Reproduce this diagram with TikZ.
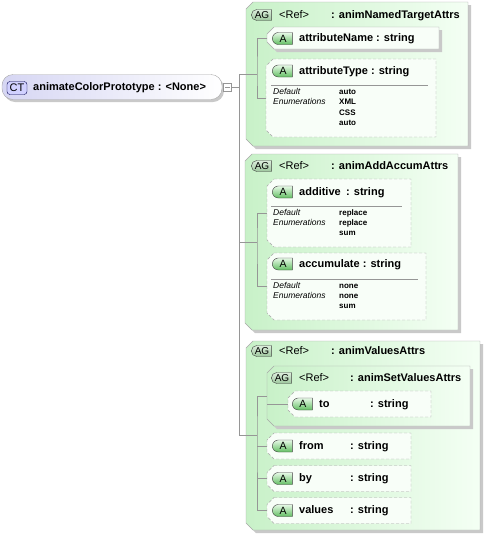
\documentclass[tikz,border=0pt]{standalone}
\usepackage{fontspec}
\setmainfont{Liberation Sans}
\usepackage{tikz}
\usetikzlibrary{shapes.misc,positioning}

\definecolor{agleft}{HTML}{C8F1C8}
\definecolor{agright}{HTML}{F4FFF4}
\definecolor{boxline}{HTML}{A8A8A8}
\definecolor{shadowgrey}{HTML}{C9C9C9}
\definecolor{attrfill}{HTML}{F8FEF8}
\definecolor{ctleft}{HTML}{D6D6F3}
\definecolor{badgetop}{HTML}{E6F9E6}
\definecolor{badgebot}{HTML}{62BE62}
\definecolor{agbtop}{HTML}{DDEEDD}
\definecolor{agbbot}{HTML}{9CC69C}
\definecolor{conline}{HTML}{969696}

% outline with cut corners on the left, shifted by #2
\newcommand{\chamfer}[2]{([shift={(#2)},xshift=7pt]#1.north west) -- ([shift={(#2)}]#1.north east)
  -- ([shift={(#2)}]#1.south east) -- ([shift={(#2)},xshift=7pt]#1.south west)
  -- ([shift={(#2)},yshift=7pt]#1.south west) -- ([shift={(#2)},yshift=-7pt]#1.north west) -- cycle}
\newcommand{\groupbox}[1]{\fill[shadowgrey] \chamfer{#1}{3pt,-3pt};
  \shade[left color=agleft, right color=agright] \chamfer{#1}{0pt,0pt};
  \draw[draw=boxline] \chamfer{#1}{0pt,0pt};}
\newcommand{\attrbox}[1]{\fill[shadowgrey] \chamfer{#1}{3pt,-3pt};
  \fill[attrfill] \chamfer{#1}{0pt,0pt};
  \draw[draw=boxline] \chamfer{#1}{0pt,0pt};}
\newcommand{\optbox}[1]{\fill[attrfill] \chamfer{#1}{0pt,0pt};
  \draw[draw=boxline, dash pattern=on 3pt off 2pt] \chamfer{#1}{0pt,0pt};}

\tikzset{
  frame/.style={rectangle, draw=none, inner sep=0pt, outer sep=0pt},
  abadge/.style={rounded rectangle, rounded rectangle right arc=none, draw=black!75,
    top color=badgetop, bottom color=badgebot, minimum width=20pt, minimum height=12pt,
    inner sep=0pt, font=\fontsize{10.5}{11}\selectfont},
  agbadge/.style={abadge, top color=agbtop, bottom color=agbbot, minimum height=11pt,
    font=\fontsize{10}{11}\selectfont},
  ctbadge/.style={rectangle, rounded corners=3pt, draw=black!70!blue, fill=blue!18!white,
    minimum width=20pt, minimum height=13pt, inner sep=0pt, font=\fontsize{11}{12}\selectfont},
  title/.style={anchor=west, inner sep=0pt, text height=8pt, text depth=2pt,
    font=\fontsize{11}{13}\selectfont\bfseries},
  reftext/.style={title, font=\fontsize{11}{13}\selectfont},
  det/.style={anchor=west, inner sep=0pt, text height=6.5pt, text depth=1.5pt,
    font=\fontsize{8.5}{10}\selectfont\itshape},
  val/.style={det, font=\fontsize{8}{10}\selectfont\bfseries},
  port/.style={rectangle, draw=conline, fill=white, minimum size=8pt, inner sep=0pt},
  conn/.style={draw=conline, line width=0.6pt},
  sep/.style={draw=conline, line width=0.6pt}
}

\begin{document}
\begin{tikzpicture}[x=1pt,y=-1pt]
    \useasboundingbox (0,0) rectangle (487,539);
    %complex type
    \fill[shadowgrey, rounded corners=11pt] (4,77) rectangle (224,102);
    \node[rectangle, rounded corners=11pt, draw=boxline, left color=ctleft, right color=white,
      minimum width=220pt, minimum height=25pt, inner sep=0pt] (proto) at (112,87) {};
    \node[ctbadge] (ct) at (17,88) {CT};
    \node[title] (protoname) at (33,87) {animateColorPrototype : <None>};
    \node[port] (ctport) at (227.5,87.5) {};
    \draw[conn] ([xshift=2pt]ctport.west) -- ([xshift=-2pt]ctport.east);

    %groups
    \node[frame, minimum width=222pt, minimum height=144pt] (namedTarget) at (357,74) {};
    \groupbox{namedTarget}
    \node[frame, minimum width=213pt, minimum height=176pt] (addAccum) at (351.5,242) {};
    \groupbox{addAccum}
    \node[frame, minimum width=234pt, minimum height=189pt] (valuesAttrs) at (363,435.5) {};
    \groupbox{valuesAttrs}
    \node[frame, minimum width=203pt, minimum height=60pt] (setValues) at (368.5,396) {};
    \groupbox{setValues}

    %group headers
    \node[agbadge] (ag1) at (262,15) {AG};
    \node[reftext] at (279,15) {<Ref>};
    \node[title] at (331,15) {: animNamedTargetAttrs};
    \node[agbadge] (ag2) at (262,166) {AG};
    \node[reftext] at (279,166) {<Ref>};
    \node[title] at (331,166) {: animAddAccumAttrs};
    \node[agbadge] (ag3) at (262,351) {AG};
    \node[reftext] at (279,351) {<Ref>};
    \node[title] at (331,351) {: animValuesAttrs};
    \node[agbadge] (ag4) at (282,378) {AG};
    \node[reftext] at (299,378) {<Ref>};
    \node[title] at (350,378) {: animSetValuesAttrs};

    %attributes
    \node[frame, minimum width=172pt, minimum height=22pt] (attrName) at (353,38) {};
    \attrbox{attrName}
    \node[abadge] at (283,38.5) {A};
    \node[title] at (299,38.5) {attributeName : string};

    \node[frame, minimum width=170pt, minimum height=78pt] (attrType) at (351,98) {};
    \optbox{attrType}
    \node[abadge] at (283,71) {A};
    \node[title] at (299,71) {attributeType : string};
    \draw[sep] (271,85) -- (428,85);
    \node[det] at (273,91.5) {Default};
    \node[det] at (273,102) {Enumerations};
    \node[val] at (339,91.5) {auto};
    \node[val] at (339,102) {XML};
    \node[val] at (339,112.5) {CSS};
    \node[val] at (339,123) {auto};

    \node[frame, minimum width=144pt, minimum height=68pt] (additive) at (339,213) {};
    \optbox{additive}
    \node[abadge] at (283,192) {A};
    \node[title] at (299,192) {additive};
    \node[title] at (346,192) {: string};
    \draw[sep] (271,206) -- (402,206);
    \node[det] at (273,213) {Default};
    \node[det] at (273,223) {Enumerations};
    \node[val] at (339,213) {replace};
    \node[val] at (339,223) {replace};
    \node[val] at (339,233) {sum};

    \node[frame, minimum width=159pt, minimum height=67pt] (accumulate) at (346.5,286.5) {};
    \optbox{accumulate}
    \node[abadge] at (283,264) {A};
    \node[title] at (299,264) {accumulate : string};
    \draw[sep] (271,279) -- (418,279);
    \node[det] at (273,286) {Default};
    \node[det] at (273,296) {Enumerations};
    \node[val] at (339,286) {none};
    \node[val] at (339,296) {none};
    \node[val] at (339,306) {sum};

    \node[frame, minimum width=143pt, minimum height=26pt] (toattr) at (359.5,404) {};
    \optbox{toattr}
    \node[abadge] at (303,404) {A};
    \node[title] at (319,404) {to};
    \node[title] at (370,404) {: string};

    \node[frame, minimum width=144pt, minimum height=26pt] (from) at (339,446) {};
    \optbox{from}
    \node[abadge] at (283,446) {A};
    \node[title] at (299,446) {from};
    \node[title] at (350,446) {: string};

    \node[frame, minimum width=144pt, minimum height=26pt] (by) at (339,478.5) {};
    \optbox{by}
    \node[abadge] at (283,478.5) {A};
    \node[title] at (299,478.5) {by};
    \node[title] at (350,478.5) {: string};

    \node[frame, minimum width=144pt, minimum height=26pt] (values) at (339,510.5) {};
    \optbox{values}
    \node[abadge] at (283,510.5) {A};
    \node[title] at (299,510.5) {values};
    \node[title] at (350,510.5) {: string};

    %edges
    \coordinate (busTop) at (239,74);
    \coordinate (busBot) at (239,435.5);
    \coordinate (in1) at (257,74);
    \coordinate (in2) at (257,242);
    \coordinate (in3) at (257,435.5);
    \draw[conn] (ctport) -- (ctport -| busTop);
    \draw[conn] (busTop) -- (busBot);
    \draw[conn] (busTop) -- (in1);
    \draw[conn] (attrName) -| (in1) |- (attrType);
    \draw[conn] (busTop |- in2) -- (in2);
    \draw[conn] (additive) -| (in2) |- (accumulate);
    \draw[conn] (busBot) -- (in3);
    \draw[conn] (setValues) -| (in3) |- (values);
    \draw[conn] (in3 |- from) -- (from);
    \draw[conn] (in3 |- by) -- (by);
    \draw[conn] (setValues.west |- toattr) -- (toattr);
\end{tikzpicture}
\end{document}
